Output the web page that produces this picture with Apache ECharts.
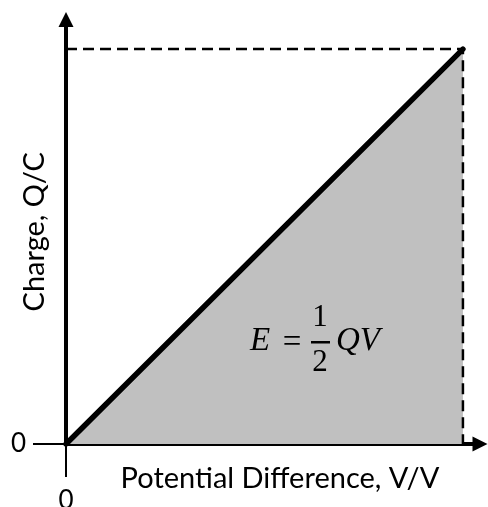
<!DOCTYPE html>
<html><head><meta charset="utf-8">
<script src="https://cdn.jsdelivr.net/npm/echarts@6/dist/echarts.min.js"></script>
<style>html,body{margin:0;padding:0;background:#fff}#c{width:488px;height:507px}</style>
</head><body><div id="c"></div>
<script>
// Data
const voltage = [0, 10];
const charge = [0, 10];
const guideV = [0, 10, 10];
const guideQ = [10, 10, 0];
const xTickValues = [0];
const yTickValues = [0];
const xAxisName = 'Potential Difference, V/V';
const yAxisName = 'Charge, Q/C';

const xMax = 10.43, yMax = 10.75;
const font = 'Lato';

const chart = echarts.init(document.getElementById('c'), null, {renderer: 'canvas'});
const lineSeries = voltage.map((v, i) => [v, charge[i]]);
const guideSeries = guideV.map((v, i) => [v, guideQ[i]]);

const axisCommon = {
  type: 'value',
  min: 0,
  splitLine: {show: false},
  axisLine: {show: true, symbol: ['none', 'triangle'], symbolSize: [15, 15],
    lineStyle: {color: '#000', width: 4}},
  axisTick: {show: true, customValues: [0], length: 33, inside: false,
    lineStyle: {color: '#000', width: 2}},
  nameLocation: 'middle',
  nameMoveOverlap: false,
  nameTextStyle: {fontFamily: font, fontSize: 29, color: '#000'}
};

chart.setOption({
  animation: false,
  grid: {left: 66, right: 8, top: 19.5, bottom: 63, outerBoundsMode: 'none', containLabel: false},
  xAxis: Object.assign({}, axisCommon, {
    max: xMax,
    name: xAxisName, nameGap: 20,
    nameTextStyle: Object.assign({}, axisCommon.nameTextStyle, {padding: [0, 0, 0, 14]}),
    axisTick: Object.assign({}, axisCommon.axisTick, {customValues: xTickValues}),
    axisLabel: {customValues: xTickValues, margin: 44, fontFamily: font, fontSize: 26, color: '#000'}
  }),
  yAxis: Object.assign({}, axisCommon, {
    max: yMax,
    name: yAxisName, nameGap: 17,
    axisTick: Object.assign({}, axisCommon.axisTick, {customValues: yTickValues}),
    axisLabel: {customValues: yTickValues, margin: 40, fontFamily: font, fontSize: 26, color: '#000'}
  }),
  series: [
    {type: 'line', data: lineSeries, symbol: 'none', z: 1,
      lineStyle: {width: 0, opacity: 0},
      areaStyle: {color: '#c0c0c0', opacity: 1}},
    {type: 'line', data: guideSeries, symbol: 'none', z: 2,
      lineStyle: {color: '#000', width: 2.5, type: [11, 6]}},
    {type: 'line', data: lineSeries, symbol: 'none', z: 3,
      lineStyle: {color: '#000', width: 5.5, cap: 'round'}}
  ],
  graphic: {elements: [
    {type: 'text', z: 100, left: 250, top: 325, style: {text: 'E', font: 'italic 33px "Liberation Serif"', fill: '#000'}},
    {type: 'text', z: 100, x: 292, y: 343, style: {text: '=', font: '33px "Liberation Serif"', fill: '#000', align: 'center', verticalAlign: 'middle'}},
    {type: 'text', z: 100, x: 320, y: 318, style: {text: '1', font: '31px "Liberation Serif"', fill: '#000', align: 'center', verticalAlign: 'middle'}},
    {type: 'rect', z: 100, shape: {x: 311, y: 341, width: 19, height: 2.5}, style: {fill: '#000'}},
    {type: 'text', z: 100, x: 320, y: 363, style: {text: '2', font: '31px "Liberation Serif"', fill: '#000', align: 'center', verticalAlign: 'middle'}},
    {type: 'text', z: 100, left: 336, top: 325, style: {text: 'QV', font: 'italic 33px "Liberation Serif"', fill: '#000'}}
  ]}
});
</script></body></html>
